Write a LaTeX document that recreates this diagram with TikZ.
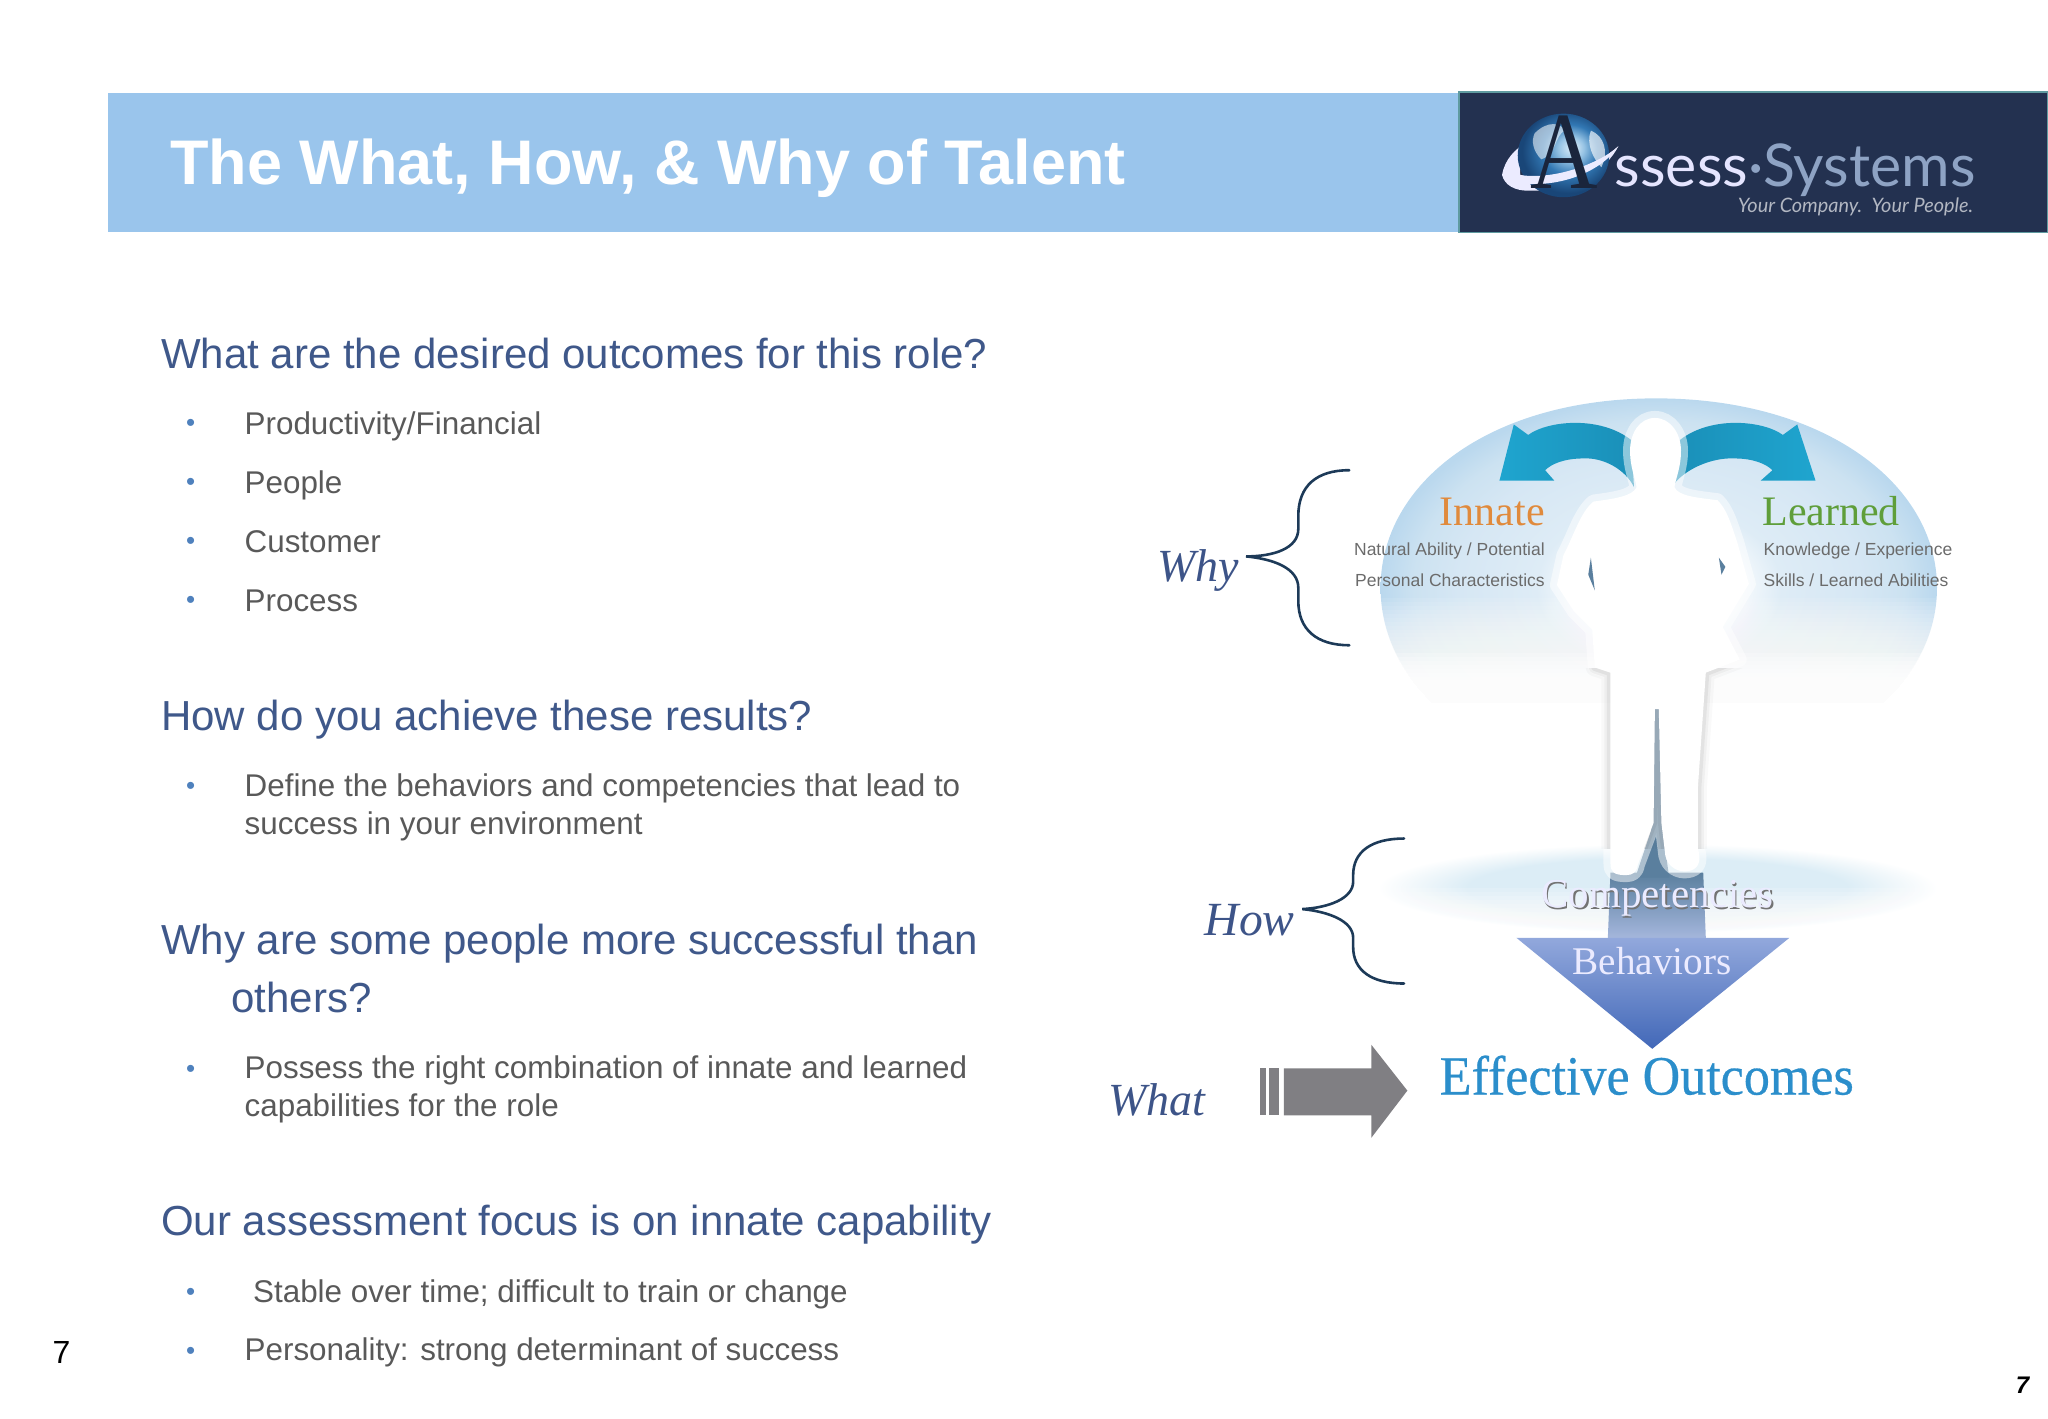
\documentclass[tikz,border=0pt]{standalone}
\usepackage{fontspec}
\setmainfont{Liberation Sans}
\newfontfamily\imgserif{Liberation Serif}
\newfontfamily\imgheavy[FakeBold=0.5]{Liberation Serif}
\newfontfamily\logofont{Lato}
\definecolor{band}{HTML}{9AC5EC}
\definecolor{logobg}{HTML}{233150}
\definecolor{logoedge}{HTML}{5F9BA0}
\definecolor{headc}{HTML}{3F588A}
\definecolor{bodyc}{HTML}{595959}
\definecolor{dotc}{HTML}{4F81BD}
\definecolor{wordc}{HTML}{3D5488}
\definecolor{bracec}{HTML}{1D3A58}
\definecolor{arrowc}{HTML}{807F83}
\definecolor{swoosh}{HTML}{1FA5CF}
\definecolor{swooshd}{HTML}{1A8FB8}
\definecolor{slit}{HTML}{5A7F9E}
\definecolor{bubA}{HTML}{DEECF6}
\definecolor{bubB}{HTML}{D6E7F4}
\definecolor{bubC}{HTML}{CCE2F1}
\definecolor{bubD}{HTML}{BAD8EE}
\definecolor{grA}{HTML}{DCEDF6}
\definecolor{grB}{HTML}{EEF6FA}
\definecolor{glA}{HTML}{E1F0FA}
\definecolor{glB}{HTML}{96C3E4}
\definecolor{glC}{HTML}{3278B4}
\definecolor{glD}{HTML}{194678}
\definecolor{triT}{HTML}{92A8DC}
\definecolor{triB}{HTML}{4268B8}
\definecolor{stemB}{HTML}{A4B6DC}
\definecolor{innatec}{HTML}{E08A3C}
\definecolor{learnedc}{HTML}{5F9E3A}
\definecolor{effc}{HTML}{2B8ECB}
\pgfdeclareradialshading{bubble}{\pgfpoint{0bp}{0bp}}{color(0bp)=(white);color(6bp)=(white);color(11bp)=(bubA);color(18bp)=(bubB);color(22bp)=(bubC);color(25bp)=(bubD);color(50bp)=(bubD)}
\pgfdeclareradialshading{groundsh}{\pgfpoint{0bp}{0bp}}{color(0bp)=(grA);color(17bp)=(grA);color(21bp)=(grB);color(25bp)=(white);color(50bp)=(white)}
\pgfdeclareradialshading{globesh}{\pgfpoint{5bp}{5bp}}{color(0bp)=(glA);color(7bp)=(glB);color(15bp)=(glC);color(25bp)=(glD);color(50bp)=(glD)}
\tikzset{
  headtxt/.style={anchor=base west,inner sep=0pt,text=headc,font=\fontsize{21}{25}\selectfont},
  itemtxt/.style={anchor=base west,inner sep=0pt,text=bodyc,font=\fontsize{15.7}{19}\selectfont},
  dottxt/.style={anchor=center,inner sep=0pt,text=dotc,font=\fontsize{13}{14}\selectfont},
  wordtxt/.style={anchor=base west,inner sep=0pt,text=wordc,font=\imgserif\itshape\fontsize{23}{27}\selectfont},
  smalltxt/.style={inner sep=0pt,text=black!58,font=\fontsize{8.75}{10}\selectfont},
  captxt/.style={anchor=base west,inner sep=0pt,font=\imgserif\fontsize{21}{25}\selectfont},
  bracepath/.style={draw=bracec,line width=1.3pt,line cap=round},
}
\def\silpath{(1267,320)
  .. controls (1255,320) and (1248,332) .. (1248,345)
  .. controls (1248,358) and (1252,366) .. (1253,373)
  .. controls (1250,380) and (1235,382) .. (1220,384)
  .. controls (1210,392) and (1205,410) .. (1197,425)
  -- (1192,448) -- (1205,468) -- (1219,482) -- (1221,511) -- (1233,515)
  -- (1233,661) .. controls (1233,668) and (1236,670) .. (1245,670)
  .. controls (1250,670) and (1253,668) .. (1254,662)
  -- (1266,630) -- (1267,543) -- (1270,543) -- (1272,630) -- (1275,655)
  .. controls (1277,664) and (1285,668) .. (1292,667)
  .. controls (1300,666) and (1303,660) .. (1300,650)
  -- (1300,602) -- (1306,515) -- (1332,505) -- (1319,480) -- (1339,447)
  -- (1330,415) .. controls (1325,400) and (1322,390) .. (1315,383)
  .. controls (1300,381) and (1285,380) .. (1282,373)
  .. controls (1283,366) and (1287,358) .. (1287,345)
  .. controls (1287,332) and (1279,320) .. (1267,320) -- cycle}
\begin{document}
\begin{tikzpicture}[x=0.65306pt,y=-0.65306pt]
\useasboundingbox (0,0) rectangle (1568,1085.75);
% header
\fill[band] (83,71) rectangle (1116,178);
\node[anchor=base west,inner sep=0pt,text=white,font=\bfseries\fontsize{31.5}{36}\selectfont] (title) at (130,141) {The What, How, \& Why of Talent};
% logo
\filldraw[fill=logobg,draw=logoedge,line width=0.8pt] (1117,70.5) rectangle (1568,178);
\fill[white!92!blue] (1150,134) .. controls (1152,122) and (1160,114) .. (1170,108) .. controls (1166,120) and (1163,128) .. (1164,134) .. controls (1190,140) and (1225,125) .. (1239,112) .. controls (1230,130) and (1205,147) .. (1170,146) .. controls (1160,146) and (1152,142) .. (1150,134) -- cycle;
\shade[shading=globesh] (1197,119) ellipse (35 and 32);
\fill[white,opacity=.55] (1175,102) .. controls (1185,92) and (1195,94) .. (1198,100) .. controls (1190,104) and (1192,118) .. (1180,122) .. controls (1174,116) and (1172,108) .. (1175,102) -- cycle;
\fill[white,opacity=.65] (1218,100) .. controls (1228,104) and (1232,116) .. (1226,128) .. controls (1220,122) and (1214,110) .. (1218,100) -- cycle;
\fill[white!92!blue] (1164,134) .. controls (1190,138) and (1225,125) .. (1239,112) .. controls (1230,126) and (1205,142) .. (1170,141) -- cycle;
\node[anchor=base,inner sep=0pt,text=logobg!75!black,xscale=.85,font=\imgserif\fontsize{55}{60}\selectfont] (logoA) at (1198,144) {A};
\node[anchor=base west,inner sep=0pt,text=white!90!blue,font=\logofont\fontsize{29.5}{34}\selectfont] (logo) at (1236,143) {ssess{\color[HTML]{8EA3C4}·Systems}};
\node[anchor=base east,inner sep=0pt,text=white!65!logobg,font=\logofont\itshape\fontsize{9.95}{11}\selectfont] (tag) at (1511,163) {Your Company.\ \ Your People.};
% left column
\node[headtxt] (h1) at (123,282) {What are the desired outcomes for this role?};
\node[dottxt] (d1) at (146,326) {•};
\node[itemtxt] (i1) at (187,333) {Productivity/Financial};
\node[dottxt] (d2) at (146,371) {•};
\node[itemtxt] (i2) at (187,378) {People};
\node[dottxt] (d3) at (146,416) {•};
\node[itemtxt] (i3) at (187,423) {Customer};
\node[dottxt] (d4) at (146,461) {•};
\node[itemtxt] (i4) at (187,468) {Process};
\node[headtxt] (h2) at (123,559) {How do you achieve these results?};
\node[dottxt] (d5) at (146,604) {•};
\node[itemtxt] (i5) at (187,610) {Define the behaviors and competencies that lead to};
\node[itemtxt] (i5b) at (187,639) {success in your environment};
\node[headtxt] (h3) at (123,731) {Why are some people more successful than};
\node[headtxt] (h3b) at (177,775) {others?};
\node[dottxt] (d6) at (146,820) {•};
\node[itemtxt] (i6) at (187,826) {Possess the right combination of innate and learned};
\node[itemtxt] (i6b) at (187,855) {capabilities for the role};
\node[headtxt] (h4) at (123,946) {Our assessment focus is on innate capability};
\node[dottxt] (d7) at (146,991) {•};
\node[itemtxt] (i7) at (193.5,997) {Stable over time; difficult to train or change};
\node[dottxt] (d8) at (146,1036) {•};
\node[itemtxt] (i8) at (187,1042) {Personality: strong determinant of success};
\node[anchor=base west,inner sep=0pt,text=black,font=\fontsize{16}{19}\selectfont] (n1) at (40,1044) {7};
\node[anchor=base west,inner sep=0pt,text=black,font=\bfseries\itshape\fontsize{12}{14}\selectfont] (n2) at (1543,1067) {7};
% bubble
\shade[shading=bubble] (1057,450) .. controls (1057,370) and (1140,305) .. (1268,305) .. controls (1396,305) and (1483,370) .. (1483,450) .. controls (1483,530) and (1396,595) .. (1268,595) .. controls (1140,595) and (1057,530) .. (1057,450) -- cycle;
\foreach \yy in {458,461,...,499}{\fill[white,opacity=.09] (1045,\yy) rectangle (1495,600);}
\foreach \yy in {500,503,...,536}{\fill[white,opacity=.25] (1045,\yy) rectangle (1495,600);}
\fill[white] (1045,538) rectangle (1495,600);
% blue arrows
\shade[left color=swoosh,middle color=swoosh,right color=swooshd] (1159,325) -- (1170,333) .. controls (1185,322) and (1225,318) .. (1249,337) -- (1251,373) .. controls (1245,360) and (1228,350) .. (1212,351) .. controls (1198,351) and (1188,355) .. (1183,360) -- (1190,368) -- (1148,368) -- cycle;
\shade[right color=swoosh,middle color=swoosh,left color=swooshd] (1376,325) -- (1365,333) .. controls (1350,322) and (1310,318) .. (1286,337) -- (1280,373) .. controls (1288,360) and (1310,350) .. (1328,351) .. controls (1342,351) and (1352,355) .. (1357,360) -- (1348,368) -- (1390,368) -- cycle;
% ground
\shade[shading=groundsh] (1269,680) ellipse (214 and 34);
\foreach \yy in {680,683,...,712}{\fill[white,opacity=.16] (1045,\yy) rectangle (1495,716);}
% stem and triangle
\shade[top color=slit,bottom color=stemB] (1233,668) -- (1304,668) -- (1306,718) -- (1231,718) -- cycle;
\fill[slit] (1264,530) rectangle (1273,660);
\fill[slit] (1252,672) -- (1266,630) -- (1272,630) -- (1278,672) -- cycle;
\shade[top color=triT,bottom color=triB] (1161,718) -- (1370,718) -- (1265,803) -- cycle;
% silhouette
\draw[line width=7pt,draw=white,opacity=.5,line join=round] \silpath;
\begin{scope}
\clip (1200,512) rectangle (1340,650);
\draw[line width=9pt,draw=black,opacity=.025,line join=round] \silpath;
\draw[line width=6pt,draw=black,opacity=.035,line join=round] \silpath;
\draw[line width=3.5pt,draw=black,opacity=.05,line join=round] \silpath;
\end{scope}
\fill[white] \silpath;
\fill[slit] (1218,427) -- (1221,452) -- (1216,440) -- cycle;
\fill[slit] (1316,427) -- (1321,434) -- (1318,440) -- cycle;
% image labels
\node[captxt,text=innatec] (innate) at (1102,402) {Innate};
\node[captxt,text=learnedc] (learned) at (1349,402) {Learned};
\node[smalltxt,anchor=east] (s1) at (1183,422) {Natural Ability / Potential};
\node[smalltxt,anchor=east] (s2) at (1183,444) {Personal Characteristics};
\node[smalltxt,anchor=west] (s3) at (1350,422) {Knowledge / Experience};
\node[smalltxt,anchor=west] (s4) at (1350,444) {Skills / Learned Abilities};
\node[inner sep=0pt,text=black!55,font=\imgserif\fontsize{20.5}{24}\selectfont] (c0) at (1270,689) {Competencies};
\node[inner sep=0pt,text=white!92!blue,font=\imgserif\fontsize{20.5}{24}\selectfont] (c1) at (1269,688) {Competencies};
\node[inner sep=0pt,text=white!92!blue,font=\imgserif\fontsize{19.6}{24}\selectfont] (b1) at (1265,736) {Behaviors};
\node[anchor=base west,inner sep=0pt,text=effc,xscale=.94,font=\imgheavy\fontsize{27.7}{32}\selectfont] (eff) at (1102,838) {Effective Outcomes};
% words and braces
\node[wordtxt] (why) at (886,445) {Why};
\node[wordtxt,font=\imgserif\itshape\fontsize{23.8}{27}\selectfont] (how) at (922,716) {How};
\node[wordtxt] (what) at (848,854) {What};
\draw[bracepath] (1033,360) .. controls (1008,360) and (994,372) .. (994,395) -- (994,405) .. controls (994,420) and (975,426) .. (954,426) .. controls (975,428) and (994,435) .. (994,450) -- (994,460) .. controls (994,482) and (1008,494) .. (1033,494);
\draw[bracepath] (1075,642) .. controls (1050,642) and (1036,652) .. (1036,670) -- (1036,675) .. controls (1036,688) and (1017,695) .. (997,696) .. controls (1017,698) and (1036,705) .. (1036,718) -- (1036,725) .. controls (1036,743) and (1050,753) .. (1075,753);
% grey arrow
\fill[arrowc] (965,818) rectangle (969,854);
\fill[arrowc] (971.5,818) rectangle (979.5,854);
\fill[arrowc] (983,818) -- (1050,818) -- (1050,800) -- (1077.5,835) -- (1050,871) -- (1050,854) -- (983,854) -- cycle;
\end{tikzpicture}
\end{document}
